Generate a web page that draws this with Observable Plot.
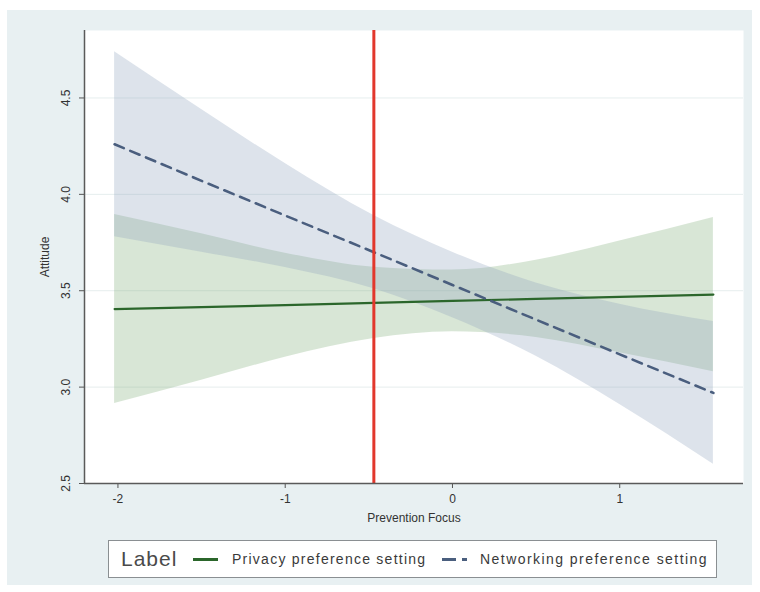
<!DOCTYPE html>
<html>
<head>
<meta charset="utf-8">
<script src="https://cdn.jsdelivr.net/npm/d3@7"></script>
<script src="https://cdn.jsdelivr.net/npm/@observablehq/plot@0.6"></script>
<style>
  html, body { margin: 0; padding: 0; background: #ffffff; }
  #page { position: relative; width: 760px; height: 592px; overflow: hidden; font-family: "Liberation Sans", Arial, sans-serif; }
  #bg { position: absolute; left: 7px; top: 10px; width: 745px; height: 575px; background: #e8f0f2; }
  #chart { position: absolute; left: 0; top: 0; }
  #legend { position: absolute; left: 108px; top: 540px; width: 607px; height: 36px; background: #ffffff; border: 1px solid #8a8f92; }
  .lg { position: absolute; white-space: nowrap; color: #3a3a3a; }
  .sw { position: absolute; height: 0; }
</style>
</head>
<body>
<div id="page">
  <div id="bg"></div>
  <div id="chart"></div>
  <div id="legend"></div>
</div>
<script>
// ---- data ----
const xValues = [-2.02, -1.5, -1, -0.47, 0, 0.5, 1, 1.56];
const networkingFit   = [4.26, 4.07, 3.89, 3.70, 3.53, 3.35, 3.17, 2.97];
const networkingUpper = [4.74, 4.44, 4.16, 3.89, 3.70, 3.54, 3.43, 3.34];
const networkingLower = [3.78, 3.70, 3.62, 3.51, 3.36, 3.16, 2.91, 2.60];
const privacyFit   = [3.405, 3.415, 3.425, 3.437, 3.447, 3.458, 3.468, 3.48];
const privacyUpper = [3.895, 3.795, 3.695, 3.622, 3.607, 3.658, 3.758, 3.88];
const privacyLower = [2.915, 3.035, 3.155, 3.252, 3.287, 3.258, 3.178, 3.08];
const referenceX = [-0.47];
const xTicks = [-2, -1, 0, 1];
const yTicks = [2.5, 3.0, 3.5, 4.0, 4.5];
const seriesLabels = ["Privacy preference setting", "Networking preference setting"];
const legendTitle = "Label";
const xTitle = "Prevention Focus";
const yTitle = "Attitude";

const privacy = xValues.map((x, i) => ({x, fit: privacyFit[i], lo: privacyLower[i], hi: privacyUpper[i]}));
const networking = xValues.map((x, i) => ({x, fit: networkingFit[i], lo: networkingLower[i], hi: networkingUpper[i]}));

const fmtX = d => (d < 0 ? "-" + Math.abs(d) : String(d));

const chart = Plot.plot({
  width: 760,
  height: 530,
  marginLeft: 84,
  marginRight: 17,
  marginTop: 30,
  marginBottom: 47,
  style: {background: "transparent", fontFamily: "'Liberation Sans', Arial, sans-serif", fontSize: "12px", color: "#333"},
  x: {domain: [-2.2, 1.74]},
  y: {domain: [2.5, 4.85]},
  marks: [
    Plot.frame({fill: "#ffffff", stroke: null}),
    Plot.gridY(yTicks.slice(1), {stroke: "#e6eeee", strokeOpacity: 1}),
    Plot.areaY(privacy, {x: "x", y1: "lo", y2: "hi", fill: "#7fac78", fillOpacity: 0.3, curve: "monotone-x"}),
    Plot.areaY(networking, {x: "x", y1: "lo", y2: "hi", fill: "#8ea3bd", fillOpacity: 0.3, curve: "monotone-x"}),
    Plot.line(privacy, {x: "x", y: "fit", stroke: "#2b662b", strokeWidth: 2.2}),
    Plot.line(networking, {x: "x", y: "fit", stroke: "#4a5e7e", strokeWidth: 2.6, strokeDasharray: "10,7"}),
    Plot.ruleX(referenceX, {stroke: "#e2372c", strokeWidth: 3}),
    Plot.axisY({ticks: yTicks, tickFormat: d3.format(".1f"), tickRotate: -90, tickSize: 5, tickPadding: 10, stroke: "#555",
      label: yTitle, labelAnchor: "center", labelArrow: "none", labelOffset: 44, fontSize: 12}),
    Plot.axisX({ticks: xTicks, tickFormat: fmtX, tickSize: 5, tickPadding: 6, stroke: "#555",
      label: xTitle, labelAnchor: "center", labelArrow: "none", labelOffset: 38, fontSize: 12}),
    Plot.ruleX([-2.2], {stroke: "#5a5a5a", strokeWidth: 1.5}),
    Plot.ruleY([2.5], {stroke: "#5a5a5a", strokeWidth: 1.5})
  ]
});
document.getElementById("chart").appendChild(chart);

// legend
const lg = document.getElementById("legend");
function addText(txt, left, size, extra) {
  const s = document.createElement("span");
  s.className = "lg";
  s.textContent = txt;
  s.style.left = left + "px";
  s.style.fontSize = size + "px";
  s.style.top = "50%";
  s.style.transform = "translateY(-50%)";
  Object.assign(s.style, extra || {});
  lg.appendChild(s);
}
function addSwatch(left, width, color, dashed, thick) {
  const d = document.createElement("div");
  d.className = "sw";
  d.style.left = left + "px";
  d.style.width = width + "px";
  d.style.top = (18 - thick / 2) + "px";
  d.style.height = thick + "px";
  d.style.background = dashed
    ? `repeating-linear-gradient(to right, ${color} 0 14px, transparent 14px 20px)`
    : color;
  lg.appendChild(d);
}
addText(legendTitle, 12, 21, {letterSpacing: "1px", color: "#4a4a4a"});
addSwatch(84, 25, "#2b662b", false, 3);
addText(seriesLabels[0], 123, 14, {letterSpacing: "1.25px"});
addSwatch(333, 25, "#4a5e7e", true, 3);
addText(seriesLabels[1], 371, 14, {letterSpacing: "1.45px"});
</script>
</body>
</html>
